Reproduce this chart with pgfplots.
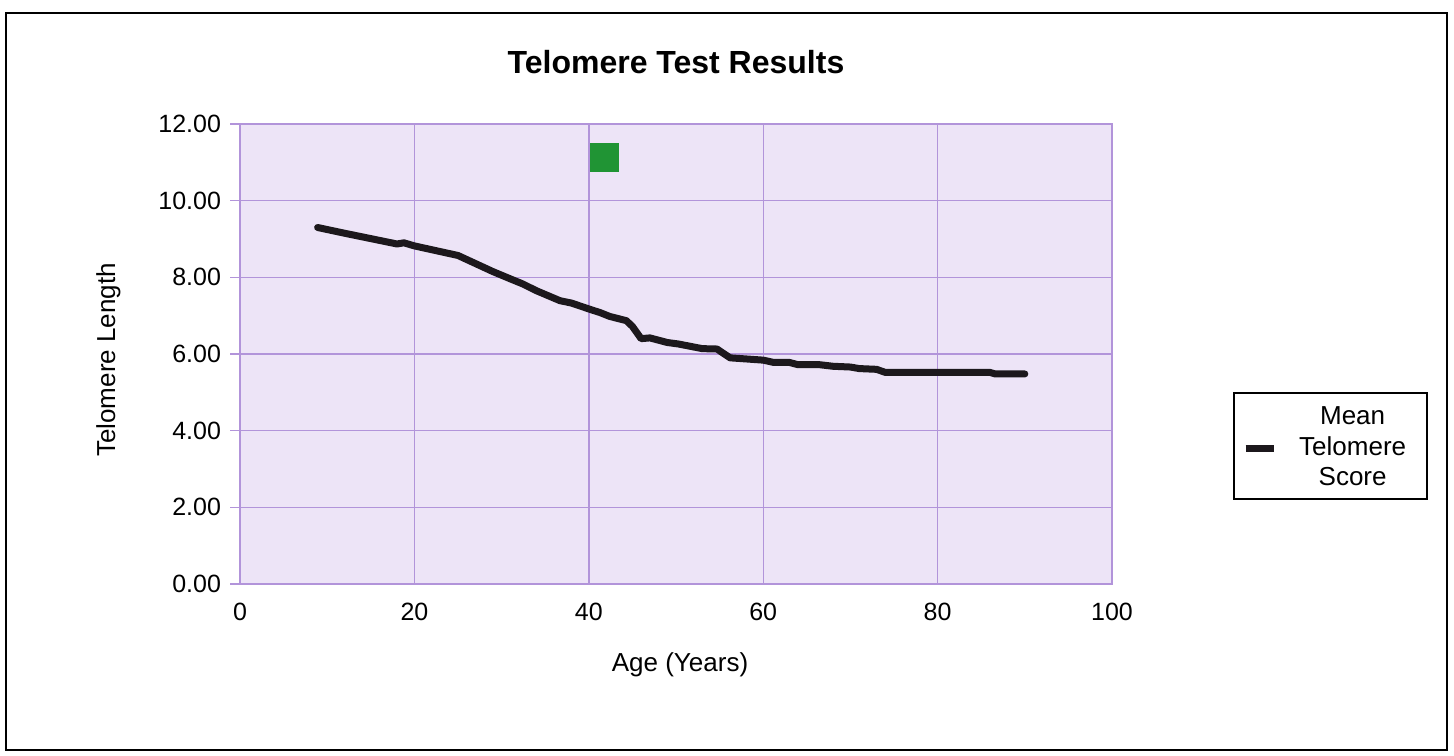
\documentclass[border=0pt]{standalone}
\usepackage{pgfplots}
\pgfplotsset{compat=1.18}
\usepackage{fontspec}
\setmainfont{Liberation Sans}
\definecolor{plotbg}{RGB}{237,228,247}
\definecolor{gridc}{RGB}{178,148,218}
\definecolor{sqgreen}{RGB}{32,148,52}
\definecolor{linec}{RGB}{28,24,28}
\begin{document}
\begin{tikzpicture}[x=1pt,y=1pt]
\path[use as bounding box] (0,0) rectangle (727,377.5);
\draw[line width=1pt] (3,2.5) rectangle (723.5,371);
\begin{axis}[
  at={(120pt,85.5pt)}, anchor=south west,
  scale only axis, width=436pt, height=230pt,
  xmin=0, xmax=100, ymin=0, ymax=12,
  xtick={0,20,...,100}, ytick={0,2,...,12},
  grid=major,
  grid style={gridc, line width=0.7pt},
  axis line style={gridc, line width=0.7pt},
  axis background/.style={fill=plotbg},
  tick align=outside, tick pos=left,
  ytick style={gridc, line width=0.7pt},
  xtick style={draw=none},
  major tick length=5pt,
  /pgf/number format/assume math mode=true,
  yticklabel={\pgfmathprintnumber[fixed,fixed zerofill,precision=2]{\tick}},
  ticklabel style={font=\fontsize{12.5}{14}\selectfont},
  yticklabel style={xshift=-1pt},
  xticklabel style={yshift=-1pt},
  title={\textbf{Telomere Test Results}},
  title style={font=\fontsize{16}{18}\selectfont, at={(axis description cs:0.5,1.109)}, anchor=center},
  xlabel={Age (Years)},
  xlabel style={font=\fontsize{13}{15}\selectfont, at={(axis description cs:0.5046,-0.175)}, anchor=center},
  ylabel={Telomere Length},
  ylabel style={font=\fontsize{13}{15}\selectfont, at={(axis description cs:-0.151,0.487)}, anchor=center, rotate=0},
  legend style={at={(axis description cs:1.1388,0.30)}, anchor=west,
    draw=black, line width=1pt, fill=white, inner xsep=4pt, inner ysep=3pt,
    font=\fontsize{13}{15.25}\selectfont,
    /tikz/column 1/.style={column sep=4.8pt},
    /tikz/column 2/.style={text width=62pt, align=center}},
  legend image code/.code={\draw[#1, line width=3.5pt, line cap=butt] (0pt,-1pt) -- (14pt,-1pt);},
]
\addplot[only marks, mark=square*, mark size=7pt, color=sqgreen, forget plot]
  coordinates {(41.8,11.13)};
\addplot[color=linec, line width=3.5pt, line join=round, line cap=round, mark=none]
  coordinates {
  (8.9,9.30) (12,9.15) (15,9.01) (18,8.87) (18.8,8.90) (20,8.82) (22,8.72)
  (25,8.57) (27,8.36) (29,8.15) (31,7.96) (32.4,7.83) (34,7.65) (36.7,7.39)
  (38,7.33) (40.2,7.16) (41.3,7.08) (42.4,6.98) (44.3,6.87) (45,6.72)
  (46,6.40) (47,6.42) (49,6.30) (50.3,6.26) (53,6.14) (54.7,6.13) (56.2,5.90)
  (60,5.84) (61.2,5.78) (63,5.78) (64,5.72) (66.5,5.72) (68,5.68) (70,5.66)
  (71,5.62) (73,5.60) (74,5.52) (80,5.52) (86,5.52) (86.6,5.48) (90,5.48)
  };
\addlegendentry{\begin{tabular}[b]{@{}c@{}}Mean\\Telomere\\Score\end{tabular}}
\end{axis}
\end{tikzpicture}
\end{document}
